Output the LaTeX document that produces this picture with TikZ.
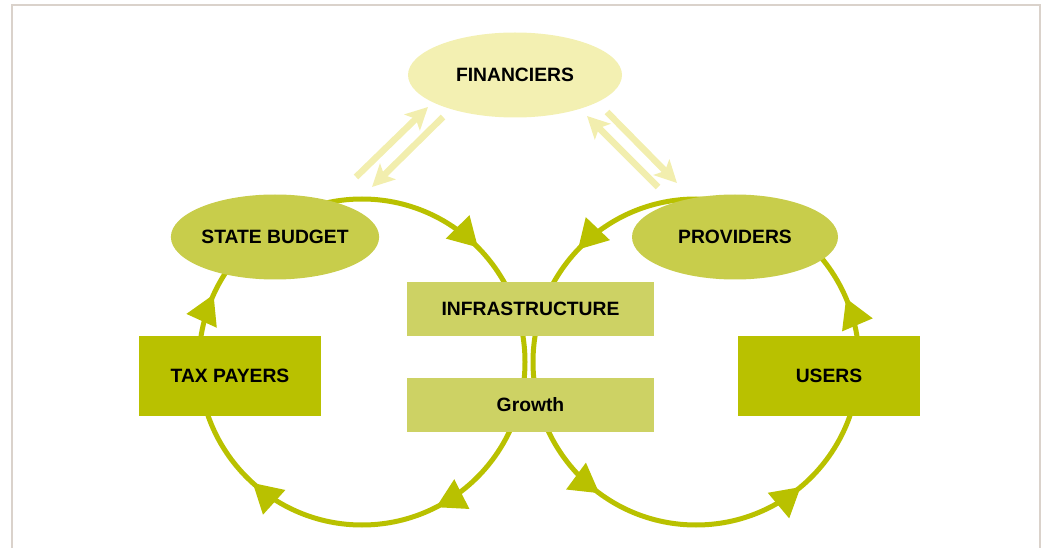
\documentclass[tikz,border=0pt]{standalone}
\usepackage{fontspec}
\setmainfont{Liberation Sans}
\usetikzlibrary{shapes.geometric,arrows.meta,decorations.markings,calc}
\definecolor{darkg}{HTML}{B9C100}
\definecolor{midg}{HTML}{C8CD4B}
\definecolor{lightg}{HTML}{CDD264}
\definecolor{pale}{HTML}{F3F0B2}
\definecolor{palearrow}{HTML}{F2EEAE}
\definecolor{frame}{HTML}{DAD2CB}
\tikzset{
  lbl/.style={font=\bfseries\fontsize{19.3}{22}\selectfont, text=black, inner sep=0pt},
  ell/.style={lbl, ellipse, minimum width=206pt, minimum height=85pt},
  bigbox/.style={lbl, rectangle, fill=darkg, minimum width=182pt, minimum height=80pt},
  midbox/.style={lbl, rectangle, fill=lightg, minimum width=247pt, minimum height=54pt},
  loop/.style={draw=darkg, line width=5pt},
  flowtip/.tip={Triangle[length=29pt, width=32pt]},
  fin/.style={draw=palearrow, line width=6.5pt, -{Stealth[length=22pt, width=22pt, inset=5pt]}},
}
\begin{document}
\begin{tikzpicture}[x=1pt,y=1pt]
\useasboundingbox (0,0) rectangle (1047,547);
% frame
\draw[frame, line width=2pt] (12,-5) -- (12,542) -- (1040,542) -- (1040,-5);

% circle centres
\coordinate (cl) at (362,185);
\coordinate (cr) at (696,185);

% loops
\draw[loop, postaction={decorate, decoration={markings,
    mark=at position 0.126 with {\arrow[darkg]{flowtip}},
    mark=at position 0.425 with {\arrow[darkg]{flowtip}},
    mark=at position 0.617 with {\arrow[darkg]{flowtip}},
    mark=at position 0.818 with {\arrow[darkg]{flowtip}}}}]
  ($(cl)+(0,163)$) arc[start angle=90, end angle=-270, radius=163];
\draw[loop, postaction={decorate, decoration={markings,
    mark=at position 0.129 with {\arrow[darkg]{flowtip}},
    mark=at position 0.399 with {\arrow[darkg]{flowtip}},
    mark=at position 0.611 with {\arrow[darkg]{flowtip}},
    mark=at position 0.814 with {\arrow[darkg]{flowtip}}}}]
  ($(cr)+(0,163)$) arc[start angle=90, end angle=450, radius=163];

% nodes
\node[ell, fill=pale, minimum width=214pt] (fin) at (515,472) {FINANCIERS};
\node[ell, fill=midg] (sb) at (275,310) {STATE BUDGET};
\node[ell, fill=midg] (pr) at (735,310) {PROVIDERS};
\node[bigbox] (tp) at (230,171) {TAX PAYERS};
\node[bigbox] (us) at (829,171) {USERS};
\node[midbox] (inf) at (530.5,238) {INFRASTRUCTURE};
\node[midbox] (gr) at (530.5,142) {Growth};

% financier arrows
\coordinate (sbA) at (356,370);
\coordinate (finA) at (428,440);
\coordinate (finB) at (443,430);
\coordinate (sbB) at (372,360);
\coordinate (prA) at (658,360);
\coordinate (finC) at (587,431);
\coordinate (finD) at (607,435);
\coordinate (prB) at (677,364);
\draw[fin] (sbA) -- (finA);
\draw[fin] (finB) -- (sbB);
\draw[fin] (prA) -- (finC);
\draw[fin] (finD) -- (prB);
\end{tikzpicture}
\end{document}
